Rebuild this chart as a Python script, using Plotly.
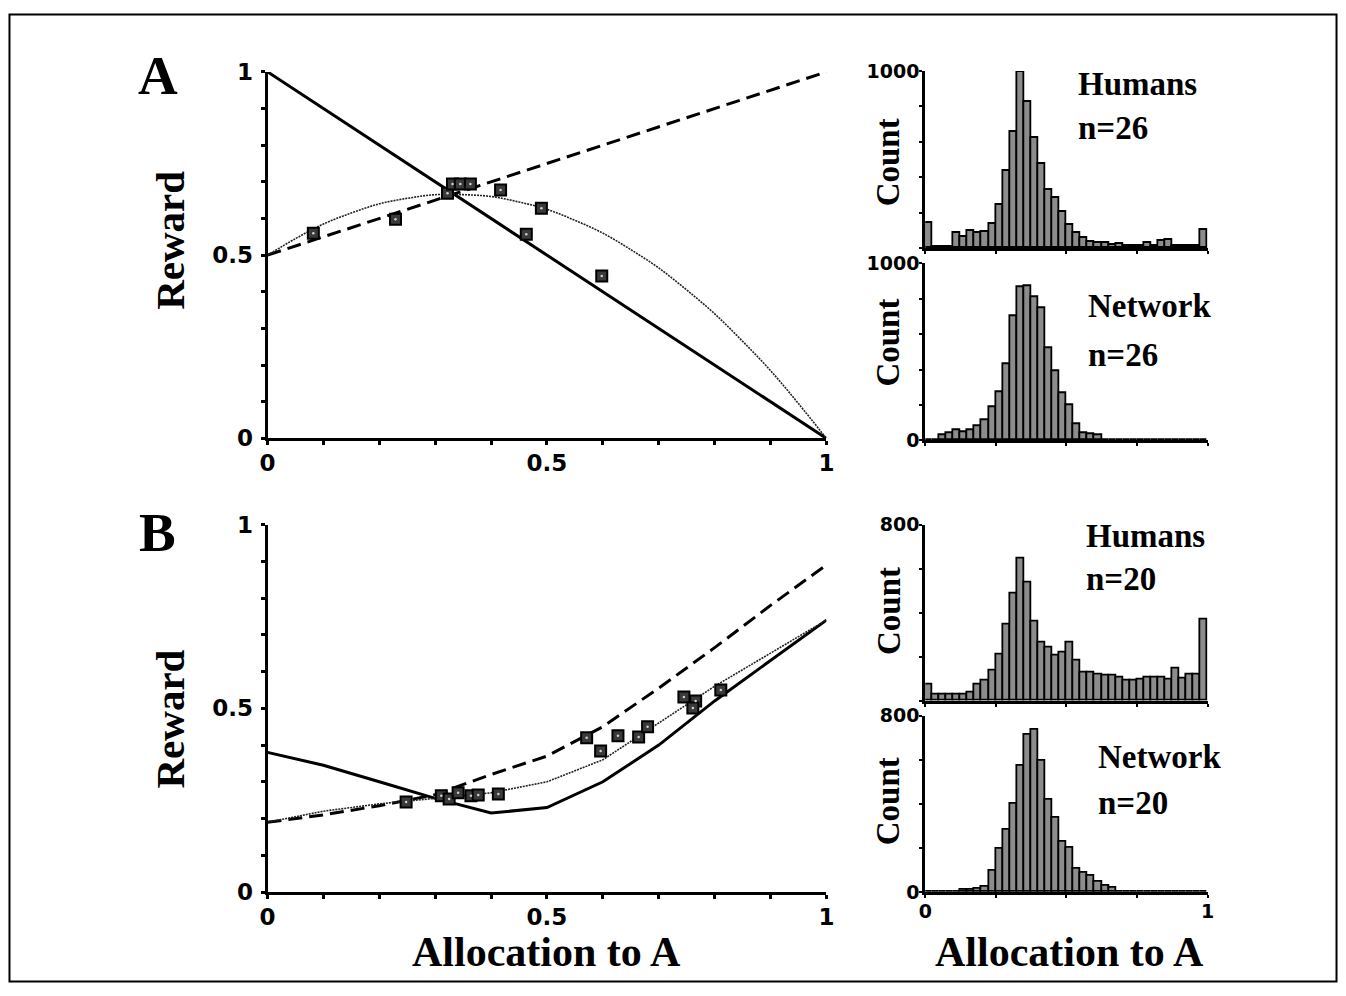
import plotly.graph_objects as go

W, H = 1346, 996
# measured mapping between page pixels and the photographed picture
AX, BX = 6.0, 0.99
AY, BY = 13.2, 0.9725

# ---------------- Panel A (left) ----------------
a_line_x = [0.0, 1.0]
a_solid_y = [1.0, 0.0]
a_dashed_y = [0.5, 1.0]
a_curve_x = [0.0, 0.05, 0.1, 0.15, 0.2, 0.25, 0.3, 0.35, 0.4, 0.45, 0.5,
             0.55, 0.6, 0.65, 0.7, 0.75, 0.8, 0.85, 0.9, 0.95, 1.0]
a_curve_y = [0.50, 0.545, 0.585, 0.615, 0.64, 0.655, 0.665, 0.665, 0.66, 0.645, 0.625,
             0.595, 0.56, 0.515, 0.465, 0.405, 0.34, 0.265, 0.185, 0.095, 0.0]
a_pts_x = [0.082, 0.229, 0.322, 0.331, 0.345, 0.363, 0.417, 0.463, 0.490, 0.598]
a_pts_y = [0.560, 0.598, 0.669, 0.694, 0.694, 0.694, 0.678, 0.557, 0.628, 0.443]

# ---------------- Panel B (left) ----------------
b_grid_x = [0.0, 0.1, 0.2, 0.3, 0.4, 0.5, 0.6, 0.7, 0.8, 0.9, 1.0]
b_solid_y = [0.38, 0.345, 0.30, 0.255, 0.215, 0.23, 0.30, 0.40, 0.52, 0.63, 0.74]
b_dashed_y = [0.19, 0.21, 0.235, 0.265, 0.32, 0.37, 0.45, 0.555, 0.665, 0.78, 0.89]
b_dotted_y = [0.19, 0.22, 0.24, 0.255, 0.27, 0.30, 0.36, 0.46, 0.56, 0.65, 0.74]
b_pts_x = [0.248, 0.311, 0.325, 0.341, 0.364, 0.377, 0.413, 0.571, 0.596, 0.627,
           0.664, 0.680, 0.745, 0.766, 0.761, 0.811]
b_pts_y = [0.245, 0.262, 0.253, 0.270, 0.262, 0.264, 0.267, 0.420, 0.384, 0.425,
           0.422, 0.450, 0.531, 0.520, 0.501, 0.550]

# ---------------- Histograms ----------------
bin_width = 0.025
bin_centers = [round(0.0125 + 0.025 * i, 4) for i in range(40)]
hA_humans = [140, 8, 8, 8, 86, 65, 98, 86, 91, 136, 243, 435, 657, 996, 827, 620,
             475, 331, 286, 202, 130, 86, 60, 36, 30, 30, 20, 25, 15, 15, 15, 30,
             15, 40, 45, 15, 15, 15, 15, 105]
hA_network = [0, 0, 32, 41, 56, 47, 60, 79, 113, 185, 273, 433, 700, 862, 872, 810,
              744, 518, 392, 267, 198, 94, 41, 34, 30, 0, 0, 0, 0, 0, 0, 0,
              0, 0, 0, 0, 0, 0, 0, 0]
hB_humans = [76, 27, 27, 27, 27, 30, 38, 76, 94, 136, 209, 345, 488, 644, 538, 361,
             265, 242, 205, 220, 265, 182, 129, 129, 121, 114, 114, 106, 91, 91, 98, 106,
             106, 106, 98, 148, 103, 118, 118, 371]
hB_network = [0, 0, 0, 0, 0, 11, 11, 14, 23, 96, 198, 282, 401, 572, 712, 736,
              594, 419, 335, 229, 203, 107, 87, 76, 46, 30, 20, 0, 0, 0, 0, 0,
              0, 0, 0, 0, 0, 0, 0, 0]

SERIF = "Liberation Serif"
SANS = "DejaVu Sans"


def px(r):
    return ((r - AX) / BX) / W


def py(r):
    return 1 - ((r - AY) / BY) / H


fig = go.Figure()

line_style = dict(color="black", width=3)
dash_style = dict(color="black", width=3, dash="14px,7px")
dot_style = dict(color="#222222", width=1.6, dash="2px,1px")
sq_marker = dict(symbol="square", size=11, color="#3a3a3a", line=dict(color="black", width=2))
dot_marker = dict(symbol="circle", size=2.5, color="#d0d0d0", line=dict(width=0))

# Panel A
fig.add_trace(go.Scatter(x=a_line_x, y=a_solid_y, mode="lines", line=line_style, xaxis="x", yaxis="y"))
fig.add_trace(go.Scatter(x=a_line_x, y=a_dashed_y, mode="lines", line=dash_style, xaxis="x", yaxis="y"))
fig.add_trace(go.Scatter(x=a_curve_x, y=a_curve_y, mode="lines", line=dot_style, line_shape="spline",
                         xaxis="x", yaxis="y"))
fig.add_trace(go.Scatter(x=a_pts_x, y=a_pts_y, mode="markers", marker=sq_marker, xaxis="x", yaxis="y"))
fig.add_trace(go.Scatter(x=a_pts_x, y=a_pts_y, mode="markers", marker=dot_marker, xaxis="x", yaxis="y"))

# Panel B
fig.add_trace(go.Scatter(x=b_grid_x, y=b_solid_y, mode="lines", line=line_style, xaxis="x2", yaxis="y2"))
fig.add_trace(go.Scatter(x=b_grid_x, y=b_dashed_y, mode="lines", line=dash_style, xaxis="x2", yaxis="y2"))
fig.add_trace(go.Scatter(x=b_grid_x, y=b_dotted_y, mode="lines", line=dot_style, xaxis="x2", yaxis="y2"))
fig.add_trace(go.Scatter(x=b_pts_x, y=b_pts_y, mode="markers", marker=sq_marker, xaxis="x2", yaxis="y2"))
fig.add_trace(go.Scatter(x=b_pts_x, y=b_pts_y, mode="markers", marker=dot_marker, xaxis="x2", yaxis="y2"))

# Histograms
bar_marker = dict(color="#8c8c8c", line=dict(color="black", width=1.8))
for counts, xa, ya in [(hA_humans, "x3", "y3"), (hA_network, "x4", "y4"),
                       (hB_humans, "x5", "y5"), (hB_network, "x6", "y6")]:
    fig.add_trace(go.Bar(x=bin_centers, y=counts, width=bin_width, marker=bar_marker,
                         xaxis=xa, yaxis=ya))

tickfont_left = dict(family=SANS, size=23, color="black", weight="bold")
tickfont_hist = dict(family=SANS, size=19, color="black", weight="bold")


def left_x(domain, anchor):
    return dict(domain=domain, anchor=anchor, range=[0, 1], showline=True, linewidth=3,
                linecolor="black", ticks="outside", ticklen=4, tickwidth=3, tickcolor="black",
                tickvals=[0, 0.5, 1], ticktext=["0", "0.5", "1"], tickfont=tickfont_left,
                ticklabelstandoff=-2,
                minor=dict(dtick=0.1, ticks="outside", ticklen=4, tickwidth=3, tickcolor="black"),
                showgrid=False, zeroline=False, fixedrange=True)


def left_y(domain, anchor):
    return dict(domain=domain, anchor=anchor, range=[0, 1], showline=True, linewidth=3,
                linecolor="black", ticks="outside", ticklen=4, tickwidth=3, tickcolor="black",
                tickvals=[0, 0.5, 1], ticktext=["0", "0.5", "1"], tickfont=tickfont_left,
                ticklabelstandoff=3,
                minor=dict(dtick=0.1, ticks="outside", ticklen=4, tickwidth=3, tickcolor="black"),
                showgrid=False, zeroline=False, fixedrange=True)


hist_xdom = [px(925), px(1208)]


def hist_x(anchor, labels):
    d = dict(domain=hist_xdom, anchor=anchor, range=[0, 1], showline=True, linewidth=3,
             linecolor="black", ticks="outside", ticklen=3, tickwidth=2, tickcolor="black",
             tickvals=[0, 0.25, 0.5, 0.75, 1], showgrid=False, zeroline=False, fixedrange=True)
    if labels:
        d.update(ticktext=["0", "", "", "", "1"], tickfont=tickfont_hist, ticklabelstandoff=-3)
    else:
        d.update(showticklabels=False)
    return d


def hist_y(domain, anchor, top, vals):
    return dict(domain=domain, anchor=anchor, range=[0, top], showline=True, linewidth=3,
                linecolor="black", ticks="outside", ticklen=3, tickwidth=2, tickcolor="black",
                tickvals=vals, ticktext=[str(v) for v in vals], tickfont=tickfont_hist,
                ticklabelstandoff=-4,
                minor=dict(dtick=200, ticks="outside", ticklen=3, tickwidth=2, tickcolor="black"),
                showgrid=False, zeroline=False, fixedrange=True)


layout = dict(
    width=W, height=H, margin=dict(l=0, r=0, t=0, b=0),
    paper_bgcolor="white", plot_bgcolor="white", showlegend=False, bargap=0,
    xaxis=left_x([px(266), px(826)], "y"),
    yaxis=left_y([py(438), py(72)], "x"),
    xaxis2=left_x([px(266), px(826)], "y2"),
    yaxis2=left_y([py(891), py(524)], "x2"),
    xaxis3=hist_x("y3", False),
    yaxis3=hist_y([py(248), py(71)], "x3", 1000, [1000]),
    xaxis4=hist_x("y4", False),
    yaxis4=hist_y([py(440), py(263)], "x4", 1000, [0, 1000]),
    xaxis5=hist_x("y5", False),
    yaxis5=hist_y([py(700), py(524)], "x5", 800, [800]),
    xaxis6=hist_x("y6", True),
    yaxis6=hist_y([py(891), py(715)], "x6", 800, [0, 800]),
)
fig.update_layout(**layout)


def note(text, x, y, size, angle=0, xanchor="center"):
    fig.add_annotation(text=text, x=px(x), y=py(y), xref="paper", yref="paper",
                       showarrow=False, textangle=angle, xanchor=xanchor, yanchor="middle",
                       font=dict(family=SERIF, size=size, color="black", weight="bold"))


note("A", 156, 76, 55)
note("B", 156, 532, 55)
note("Reward", 168, 240, 41, angle=-90)
note("Reward", 168, 718, 41, angle=-90)
note("Allocation to A", 546, 951, 42)
note("Allocation to A", 1070, 951, 42)
note("Count", 888, 162, 33, angle=-90)
note("Count", 888, 342, 33, angle=-90)
note("Count", 888, 610, 33, angle=-90)
note("Count", 888, 800, 33, angle=-90)
note("Humans", 1076, 84, 33, xanchor="left")
note("n=26", 1076, 128, 33, xanchor="left")
note("Network", 1086, 306, 33, xanchor="left")
note("n=26", 1086, 355, 33, xanchor="left")
note("Humans", 1084, 535, 33, xanchor="left")
note("n=20", 1084, 578, 33, xanchor="left")
note("Network", 1096, 756, 33, xanchor="left")
note("n=20", 1096, 802, 33, xanchor="left")

# outer frame around the whole figure
fig.add_shape(type="rect", xref="paper", yref="paper", x0=1.5 / W, x1=1 - 1.5 / W,
              y0=1.5 / H, y1=1 - 1.5 / H,
              line=dict(color="black", width=2), fillcolor="rgba(0,0,0,0)")

fig.write_html("out.html", config={"displayModeBar": False},
               post_script="document.body.style.margin='0';")
